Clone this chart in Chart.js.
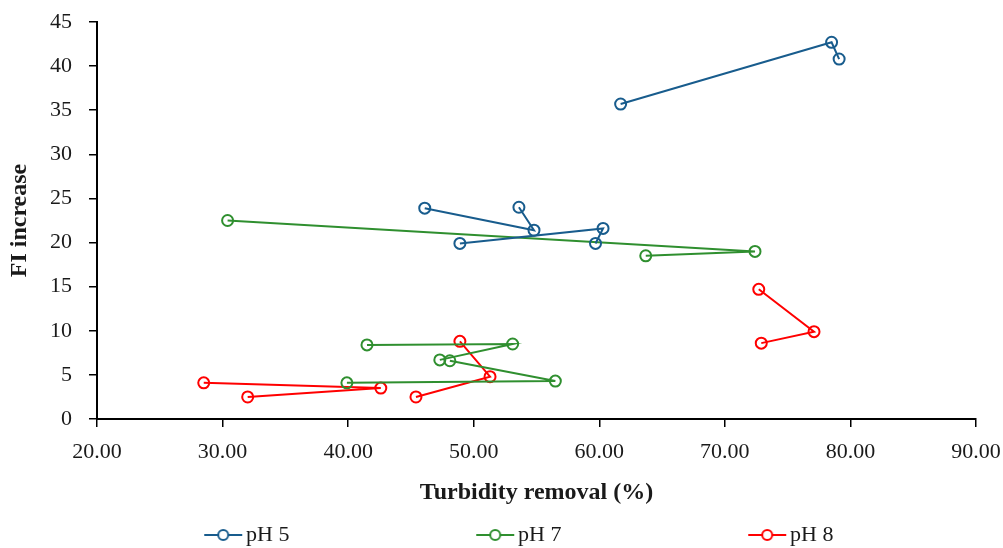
<!DOCTYPE html>
<html>
<head>
<meta charset="utf-8">
<script src="https://cdn.jsdelivr.net/npm/chart.js@4"></script>
<style>
  html, body { margin: 0; padding: 0; background: #fff; }
</style>
</head>
<body>
<canvas id="fiChart" width="1003" height="548"></canvas>
<script>
// Valeurs (null = coupure de la ligne)
const ph5Removal  = [46.1, 54.8, 53.6, null, 48.9, 60.3, 59.7, null, 61.7, 78.5, 79.1];
const ph5Increase = [23.9, 21.4, 24.0, null, 19.9, 21.6, 19.9, null, 35.7, 42.7, 40.8];

const ph7Removal  = [30.4, 72.4, 63.7, null, 41.5, 53.1, 47.3, null, 48.1, 56.5, 39.9];
const ph7Increase = [22.5, 19.0, 18.5, null, 8.4, 8.5, 6.7, null, 6.6, 4.3, 4.1];

const ph8Removal  = [28.5, 42.6, 32.0, null, 48.9, 51.3, 45.4, null, 72.7, 77.1, 72.9];
const ph8Increase = [4.1, 3.5, 2.5, null, 8.8, 4.8, 2.5, null, 14.7, 9.9, 8.6];

const seriesNames = ['pH 5', 'pH 7', 'pH 8'];
const seriesColors = ['#185C8D', '#2F8F2F', '#FF0000'];

const xTickLabels = ['20.00', '30.00', '40.00', '50.00', '60.00', '70.00', '80.00', '90.00'];
const yTickLabels = ['0', '5', '10', '15', '20', '25', '30', '35', '40', '45'];

const FONT = '"Liberation Serif", "Times New Roman", serif';
const FONT_SIZE = 22;
const TITLE_SIZE = 24;

Chart.defaults.font.family = FONT;
Chart.defaults.font.size = FONT_SIZE;
Chart.defaults.color = '#1a1a1a';

// Mise en page de la légende
const measure = document.createElement('canvas').getContext('2d');
measure.font = FONT_SIZE + 'px ' + FONT;
const textW = measure.measureText('pH 5').width;
const itemStep = 272;
const legendPad = 10;
const boxW = itemStep - FONT_SIZE / 2 - textW - legendPad;
const padLeft = Math.max(0, 225 - boxW);

// Symbole de légende : ligne + cercle
function legendSymbol(color) {
  const c = document.createElement('canvas');
  c.width = Math.round(boxW + 16);
  c.height = 16;
  const g = c.getContext('2d');
  const end = c.width - 1;
  g.strokeStyle = color;
  g.lineWidth = 2;
  g.beginPath();
  g.moveTo(end - 38, 8);
  g.lineTo(end, 8);
  g.stroke();
  g.beginPath();
  g.arc(end - 19, 8, 5, 0, Math.PI * 2);
  g.fillStyle = '#fff';
  g.fill();
  g.stroke();
  return c;
}
const symbols = seriesColors.map(legendSymbol);

const toPoints = (xs, ys) => xs.map((x, i) => ({ x: x, y: ys[i] }));

function makeDataset(i, xs, ys) {
  return {
    label: seriesNames[i],
    data: toPoints(xs, ys),
    showLine: true,
    spanGaps: false,
    borderColor: seriesColors[i],
    borderWidth: 2,
    pointRadius: 5.5,
    pointBorderWidth: 2,
    pointBackgroundColor: 'rgba(0,0,0,0)',
    pointBorderColor: seriesColors[i],
  };
}

const ctx = document.getElementById('fiChart').getContext('2d');
new Chart(ctx, {
  type: 'scatter',
  data: {
    datasets: [
      makeDataset(0, ph5Removal, ph5Increase),
      makeDataset(1, ph7Removal, ph7Increase),
      makeDataset(2, ph8Removal, ph8Increase),
    ],
  },
  options: {
    responsive: false,
    animation: false,
    devicePixelRatio: 1,
    layout: {
      padding: { top: 22, right: 27, bottom: -8, left: padLeft },
    },
    plugins: {
      tooltip: { enabled: false },
      legend: {
        position: 'bottom',
        align: 'start',
        labels: {
          usePointStyle: true,
          pointStyleWidth: boxW,
          padding: legendPad,
          font: { size: FONT_SIZE },
          generateLabels(chart) {
            const items = Chart.defaults.plugins.legend.labels.generateLabels(chart);
            items.forEach((it, i) => { it.pointStyle = symbols[i]; });
            return items;
          },
        },
      },
    },
    scales: {
      x: {
        type: 'linear',
        min: 20,
        max: 90,
        afterBuildTicks: (s) => { s.ticks = xTickLabels.map(v => ({ value: parseFloat(v) })); },
        ticks: {
          callback: (v, i) => xTickLabels[i],
          padding: 12,
          maxRotation: 0,
        },
        grid: { drawOnChartArea: false, drawTicks: true, tickLength: 8, color: '#000', lineWidth: 1.5 },
        border: { color: '#000', width: 2 },
        title: {
          display: true,
          text: 'Turbidity removal (%)',
          font: { size: TITLE_SIZE, weight: 'bold' },
          padding: { top: 0, bottom: 7 },
        },
        afterFit: (s) => {
          s.height = 95;
          s.paddingLeft = 0;
          s.paddingRight = 0;
        },
      },
      y: {
        type: 'linear',
        min: 0,
        max: 45,
        afterBuildTicks: (s) => { s.ticks = yTickLabels.map(v => ({ value: parseFloat(v) })); },
        ticks: {
          callback: (v, i) => yTickLabels[i],
          padding: 17,
        },
        grid: { drawOnChartArea: false, drawTicks: true, tickLength: 8, color: '#000', lineWidth: 1.5 },
        border: { color: '#000', width: 2 },
        title: {
          display: true,
          text: 'FI increase',
          font: { size: TITLE_SIZE, weight: 'bold' },
          padding: { top: 20 - padLeft - TITLE_SIZE * 0.6, bottom: 0 },
        },
        afterFit: (s) => {
          s.width = 97 - padLeft;
          s.paddingTop = 0;
          s.paddingBottom = 0;
        },
      },
    },
  },
});
</script>
</body>
</html>
